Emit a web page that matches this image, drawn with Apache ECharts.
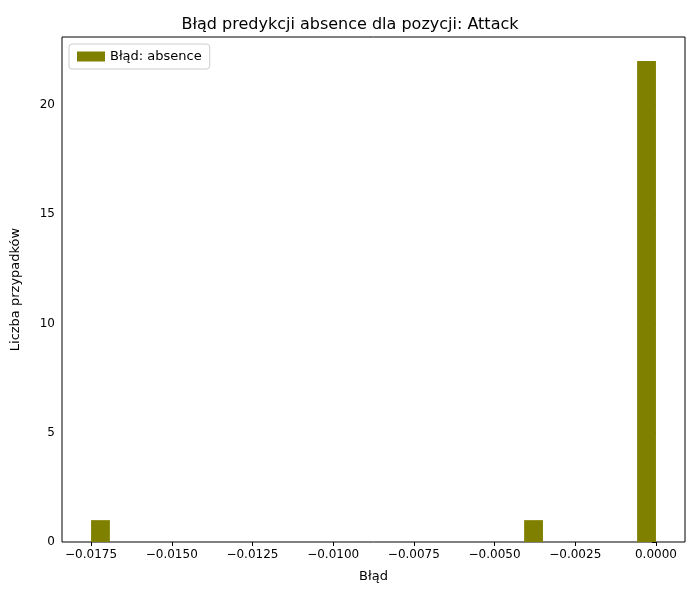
<!DOCTYPE html>
<html><head><meta charset="utf-8">
<script src="https://cdn.jsdelivr.net/npm/echarts@6/dist/echarts.min.js"></script>
<style>html,body{margin:0;padding:0;background:#fff}#c{width:700px;height:600px}</style>
</head><body><div id="c"></div>
<script>
const binWidth = 0.0175 / 30;
const binStarts = [-0.0175, -0.0175 + 23 * binWidth, -0.0175 + 29 * binWidth];
const counts = [1, 1, 22];
const xTicks = [-0.0175, -0.015, -0.0125, -0.01, -0.0075, -0.005, -0.0025, 0];
const yTicks = [0, 5, 10, 15, 20];
const data = binStarts.map((s, i) => [s, s + binWidth, counts[i]]);
const fmt = v => (v < 0 ? '\u2212' : '') + Math.abs(v).toFixed(4);
const chart = echarts.init(document.getElementById('c'));
chart.setOption({
  animation: false,
  title: { text: 'Błąd predykcji absence dla pozycji: Attack', left: 'center', top: 12,
    textStyle: { fontFamily: 'DejaVu Sans', fontSize: 16, fontWeight: 'normal', color: '#000' } },
  legend: { left: 69, top: 44, itemWidth: 28, itemHeight: 10, borderColor: '#ccc', borderWidth: 1, borderRadius: 3, padding: [6, 8],
    textStyle: { fontFamily: 'DejaVu Sans', fontSize: 13, color: '#000' }, data: [{ name: 'Błąd: absence', icon: 'rect' }] },
  grid: { left: 62, right: 15, top: 37, bottom: 58, show: true, borderColor: '#000', borderWidth: 1 },
  xAxis: { type: 'value', min: -0.0184, max: 0.0009, interval: 0.0025,
    name: 'Błąd', nameLocation: 'middle', nameGap: 28, nameTextStyle: { fontFamily: 'DejaVu Sans', fontSize: 13, color: '#000' },
    axisLine: { show: false }, splitLine: { show: false },
    axisTick: { show: true, length: 4, lineStyle: { color: '#000' },
      customValues: xTicks },
    axisLabel: { customValues: xTicks, formatter: fmt, fontFamily: 'DejaVu Sans', fontSize: 12, color: '#000', margin: 7 } },
  yAxis: { type: 'value', min: 0, max: 23.1, interval: 5,
    name: 'Liczba przypadków', nameLocation: 'middle', nameGap: 40, nameTextStyle: { fontFamily: 'DejaVu Sans', fontSize: 13, color: '#000' },
    axisLine: { show: false }, splitLine: { show: false },
    axisTick: { show: true, length: 4, lineStyle: { color: '#000' }, customValues: yTicks },
    axisLabel: { customValues: yTicks, fontFamily: 'DejaVu Sans', fontSize: 12, color: '#000', margin: 7 } },
  series: [{
    name: 'Błąd: absence', type: 'custom', itemStyle: { color: '#808000' },
    renderItem: (params, api) => {
      const a = api.coord([api.value(0), api.value(2)]);
      const b = api.coord([api.value(1), 0]);
      return { type: 'rect', shape: { x: a[0], y: a[1], width: b[0] - a[0], height: b[1] - a[1] }, style: { fill: '#808000' } };
    },
    encode: { x: [0, 1], y: 2 },
    data: data
  }]
});
</script></body></html>
